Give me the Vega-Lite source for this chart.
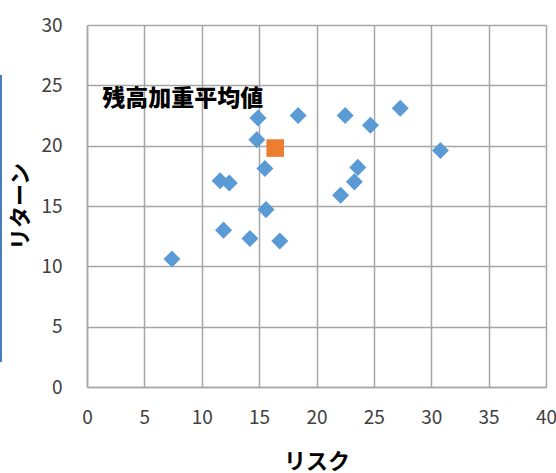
{
  "$schema": "https://vega.github.io/schema/vega-lite/v6.json",
  "width": 459,
  "height": 362,
  "autosize": {"type": "none"},
  "padding": {"left": 87, "top": 25, "right": 10, "bottom": 86},
  "background": "white",
  "config": {
    "view": {"stroke": null},
    "font": "Noto Sans CJK JP",
    "axis": {
      "grid": true,
      "gridColor": "#A6A6A6",
      "gridWidth": 1.5,
      "domainColor": "#A6A6A6",
      "domainWidth": 1.5,
      "ticks": false,
      "labelFlush": false,
      "labelFont": "Noto Sans CJK JP",
      "labelFontSize": 19,
      "labelColor": "#404040",
      "titleFont": "Noto Sans CJK JP",
      "titleFontSize": 22,
      "titleFontWeight": "bold",
      "titleColor": "#000000"
    }
  },
  "data": {
    "values": [
      {"risk": 7.4, "ret": 10.6, "kind": "fund"},
      {"risk": 11.6, "ret": 17.1, "kind": "fund"},
      {"risk": 12.4, "ret": 16.9, "kind": "fund"},
      {"risk": 11.9, "ret": 13.0, "kind": "fund"},
      {"risk": 14.2, "ret": 12.3, "kind": "fund"},
      {"risk": 14.9, "ret": 22.3, "kind": "fund"},
      {"risk": 14.8, "ret": 20.5, "kind": "fund"},
      {"risk": 15.5, "ret": 18.1, "kind": "fund"},
      {"risk": 15.6, "ret": 14.7, "kind": "fund"},
      {"risk": 16.8, "ret": 12.1, "kind": "fund"},
      {"risk": 18.4, "ret": 22.5, "kind": "fund"},
      {"risk": 22.5, "ret": 22.5, "kind": "fund"},
      {"risk": 24.7, "ret": 21.7, "kind": "fund"},
      {"risk": 27.3, "ret": 23.1, "kind": "fund"},
      {"risk": 30.8, "ret": 19.6, "kind": "fund"},
      {"risk": 23.6, "ret": 18.2, "kind": "fund"},
      {"risk": 23.3, "ret": 17.0, "kind": "fund"},
      {"risk": 22.1, "ret": 15.9, "kind": "fund"},
      {"risk": 16.4, "ret": 19.8, "kind": "avg", "label": "残高加重平均値"}
    ]
  },
  "layer": [
    {
      "mark": {"type": "point", "filled": true, "opacity": 1, "strokeWidth": 0},
      "encoding": {
        "x": {
          "field": "risk",
          "type": "quantitative",
          "title": "リスク",
          "scale": {"domain": [0, 40], "nice": false, "zero": true},
          "axis": {"values": [0, 5, 10, 15, 20, 25, 30, 35, 40], "grid": true, "labelPadding": 21, "titlePadding": 24}
        },
        "y": {
          "field": "ret",
          "type": "quantitative",
          "title": "リターン",
          "scale": {"domain": [0, 30], "nice": false},
          "axis": {"values": [0, 5, 10, 15, 20, 25, 30], "grid": true, "labelPadding": 25, "titlePadding": 8}
        },
        "shape": {
          "field": "kind",
          "type": "nominal",
          "scale": {"domain": ["fund", "avg"], "range": ["diamond", "square"]},
          "legend": null
        },
        "color": {
          "field": "kind",
          "type": "nominal",
          "scale": {"domain": ["fund", "avg"], "range": ["#5B9BD5", "#ED7D31"]},
          "legend": null
        },
        "size": {
          "field": "kind",
          "type": "nominal",
          "scale": {"domain": ["fund", "avg"], "range": [290, 310]},
          "legend": null
        }
      }
    },
    {
      "transform": [{"filter": "datum.kind === 'avg'"}],
      "mark": {
        "type": "text",
        "align": "left",
        "baseline": "middle",
        "font": "Noto Sans CJK JP",
        "fontSize": 23,
        "fontWeight": 900,
        "color": "#000000",
        "dx": -173,
        "dy": -49
      },
      "encoding": {
        "x": {"field": "risk", "type": "quantitative"},
        "y": {"field": "ret", "type": "quantitative"},
        "text": {"field": "label"}
      }
    },
    {
      "mark": {"type": "rule", "color": "#4A7EBB", "strokeWidth": 2, "clip": false},
      "encoding": {
        "x": {"datum": -7.5, "type": "quantitative"},
        "y": {"datum": 25.8, "type": "quantitative"},
        "y2": {"datum": 2.1}
      }
    }
  ]
}
